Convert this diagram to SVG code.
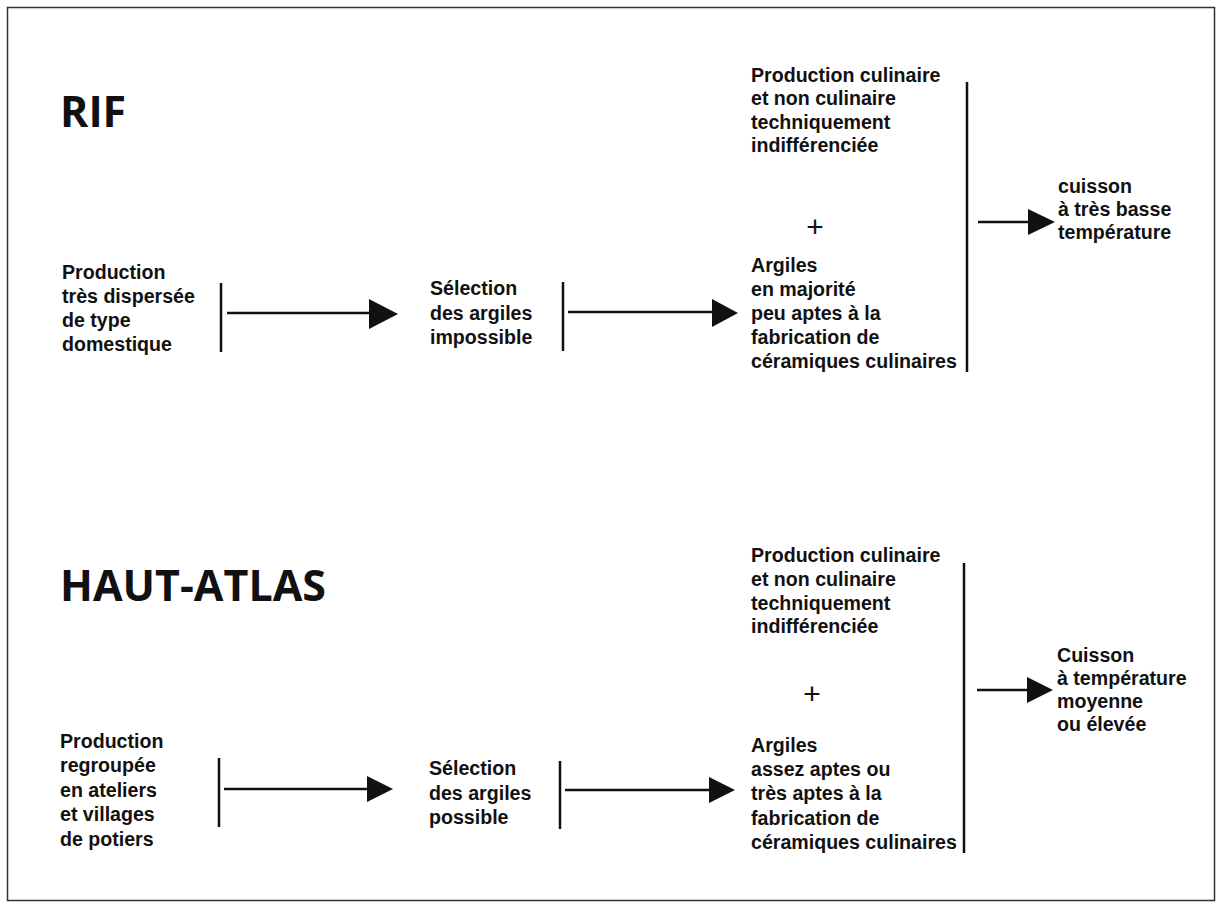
<svg xmlns="http://www.w3.org/2000/svg" width="1217" height="909" viewBox="0 0 1217 909">
<style>
  .t { font-family: "Liberation Sans", Arial, sans-serif; font-weight: 700; font-size: 19.6px; fill: #111; }
  .h { font-family: "Open Sans", "Noto Sans", "Liberation Sans", sans-serif; font-weight: 700; font-size: 43px; fill: #111; }
  .p { font-family: "Liberation Sans", Arial, sans-serif; font-weight: 400; font-size: 30px; fill: #111; }
  .ln { stroke: #111; stroke-width: 2.5; fill: none; }
  .bar { stroke: #111; stroke-width: 2.5; fill: none; }
</style>
<rect x="0" y="0" width="1217" height="909" fill="#fff"/>
<rect x="7.5" y="7.5" width="1207" height="893" fill="none" stroke="#333" stroke-width="1.5"/>

<g id="title-rif"><text class="h" x="60" y="127">RIF</text></g>
<g id="title-hautatlas"><text class="h" x="60" y="601">HAUT-ATLAS</text></g>

<!-- RIF row -->
<g id="rif-production">
  <text class="t"><tspan x="62" y="279">Production</tspan><tspan x="62" y="303">très dispersée</tspan><tspan x="62" y="327">de type</tspan><tspan x="62" y="351">domestique</tspan></text>
</g>
<g id="rif-selection">
  <text class="t"><tspan x="430" y="295">Sélection</tspan><tspan x="430" y="320">des argiles</tspan><tspan x="430" y="344">impossible</tspan></text>
</g>
<g id="rif-result">
  <text class="t"><tspan x="751" y="82">Production culinaire</tspan><tspan x="751" y="105">et non culinaire</tspan><tspan x="751" y="129">techniquement</tspan><tspan x="751" y="152">indifférenciée</tspan></text>
  <text class="p" x="815" y="237" text-anchor="middle">+</text>
  <text class="t"><tspan x="751" y="272">Argiles</tspan><tspan x="751" y="296">en majorité</tspan><tspan x="751" y="320">peu aptes à la</tspan><tspan x="751" y="344">fabrication de</tspan><tspan x="751" y="368">céramiques culinaires</tspan></text>
</g>
<g id="rif-cuisson">
  <text class="t"><tspan x="1058" y="193">cuisson</tspan><tspan x="1058" y="216">à très basse</tspan><tspan x="1058" y="239">température</tspan></text>
</g>

<!-- HAUT-ATLAS row -->
<g id="ha-production">
  <text class="t"><tspan x="60" y="748">Production</tspan><tspan x="60" y="772">regroupée</tspan><tspan x="60" y="797">en ateliers</tspan><tspan x="60" y="821">et villages</tspan><tspan x="60" y="846">de potiers</tspan></text>
</g>
<g id="ha-selection">
  <text class="t"><tspan x="429" y="775">Sélection</tspan><tspan x="429" y="800">des argiles</tspan><tspan x="429" y="824">possible</tspan></text>
</g>
<g id="ha-result">
  <text class="t"><tspan x="751" y="562">Production culinaire</tspan><tspan x="751" y="586">et non culinaire</tspan><tspan x="751" y="610">techniquement</tspan><tspan x="751" y="633">indifférenciée</tspan></text>
  <text class="p" x="812" y="704" text-anchor="middle">+</text>
  <text class="t"><tspan x="751" y="752">Argiles</tspan><tspan x="751" y="776">assez aptes ou</tspan><tspan x="751" y="800">très aptes à la</tspan><tspan x="751" y="825">fabrication de</tspan><tspan x="751" y="849">céramiques culinaires</tspan></text>
</g>
<g id="ha-cuisson">
  <text class="t"><tspan x="1057" y="662">Cuisson</tspan><tspan x="1057" y="685">à température</tspan><tspan x="1057" y="708">moyenne</tspan><tspan x="1057" y="731">ou élevée</tspan></text>
</g>

<g id="connectors">
  <!-- RIF -->
  <line class="bar" x1="221" y1="283" x2="221" y2="352"/>
  <line class="ln" x1="227" y1="313" x2="370" y2="313"/>
  <path d="M369,299 L398,314 L369,329 Z" fill="#111"/>
  <line class="bar" x1="563" y1="282" x2="563" y2="351"/>
  <line class="ln" x1="568" y1="312" x2="713" y2="312"/>
  <path d="M712,299 L738,313 L712,327 Z" fill="#111"/>
  <line class="bar" x1="967" y1="82" x2="967" y2="372"/>
  <line class="ln" x1="978" y1="222" x2="1029" y2="222"/>
  <path d="M1028,209 L1055,222 L1028,235 Z" fill="#111"/>
  <!-- HAUT-ATLAS -->
  <line class="bar" x1="219" y1="758" x2="219" y2="827"/>
  <line class="ln" x1="224" y1="789" x2="368" y2="789"/>
  <path d="M367,776 L393,789 L367,802 Z" fill="#111"/>
  <line class="bar" x1="560" y1="761" x2="560" y2="829"/>
  <line class="ln" x1="565" y1="790" x2="710" y2="790"/>
  <path d="M709,777 L735,790 L709,803 Z" fill="#111"/>
  <line class="bar" x1="964" y1="563" x2="964" y2="853"/>
  <line class="ln" x1="977" y1="690" x2="1028" y2="690"/>
  <path d="M1027,677 L1053,690 L1027,703 Z" fill="#111"/>
</g>
</svg>
